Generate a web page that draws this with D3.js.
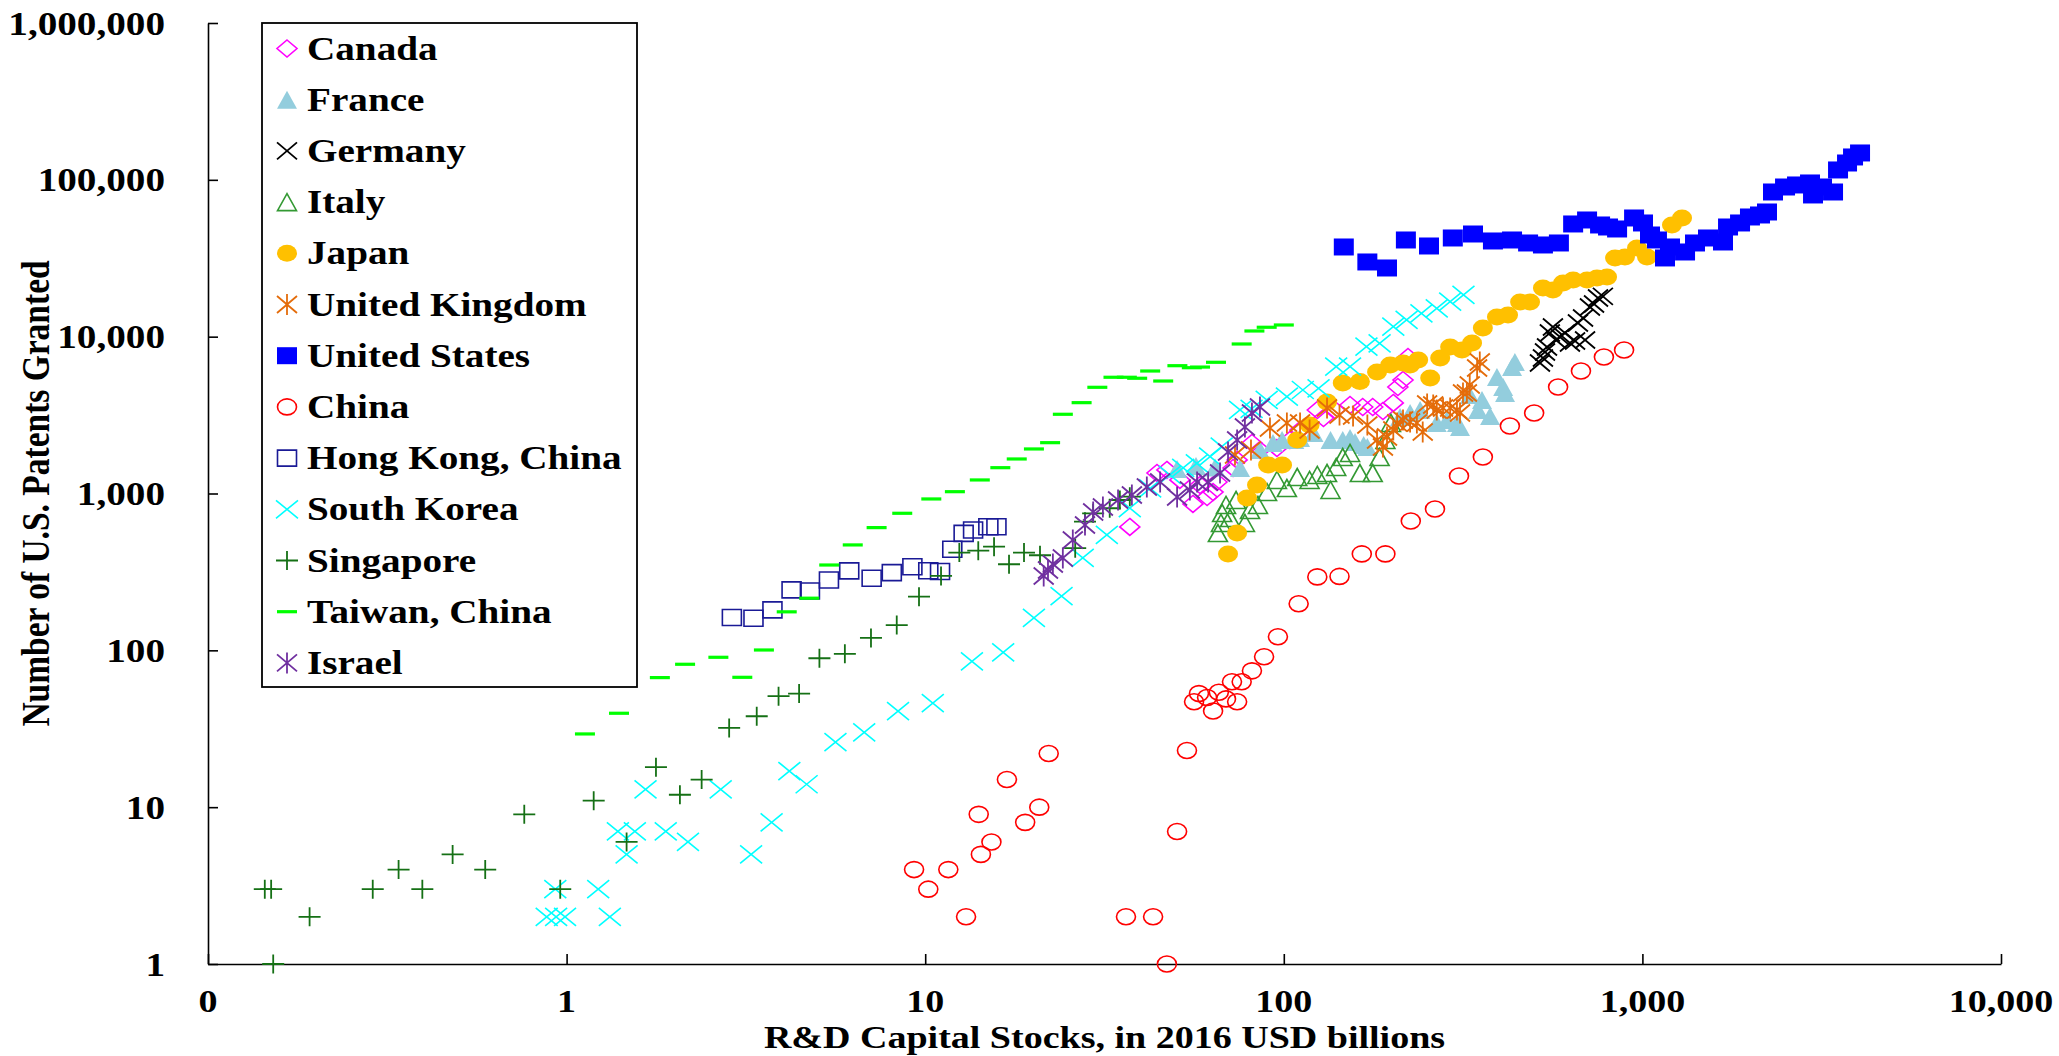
<!DOCTYPE html>
<html>
<head>
<meta charset="utf-8">
<script src="https://cdn.jsdelivr.net/npm/d3@7"></script>
<style>
  html, body { margin: 0; padding: 0; background: #fff; }
  svg { display: block; }
</style>
</head>
<body>
<svg id="chart" width="2059" height="1056"></svg>
<script>
// ---- Data: [R&D capital stock (2016 USD bn), US patents granted] ----
const canada = [[37.2,612],[44.3,1351],[47.2,1413],[51.3,1220],[55.8,858],[58.4,1133],[61.1,950],[63.5,1022],[65.1,1184],[72.2,1455],[74.1,1636],[81.5,2099],[85.8,1894],[95.7,1950],[104,2194],[111,2541],[124,3408],[129,3030],[139,3408],[153,3667],[166,3561],[177,3561],[189,3358],[202,3777],[208,4777],[215,5293],[222,7420]];
const france = [[50.4,1433],[56.9,1497],[64.3,1465],[75.5,1455],[85.8,1894],[93.3,2099],[98.9,2194],[107,2194],[111,2260],[121,2431],[135,2194],[146,2194],[153,2259],[158,2130],[167,2038],[171,1979],[211,3075],[225,3262],[240,3408],[267,2816],[285,2942],[304,2816],[310,2655],[330,4247],[348,3408],[357,3948],[376,3120],[393,5533],[409,4777],[414,4373],[433,6409],[441,6896]];
const germany = [[518,6795],[528,7311],[535,7985],[542,8600],[552,10560],[563,11530],[574,9524],[589,9954],[608,10560],[628,9113],[649,9386],[661,12220],[683,13150],[692,9524],[714,15460],[733,16160],[752,17650],[776,18060]];
const italy = [[65.5,560],[66.8,649],[67.3,751],[69.0,845],[70.8,698],[73.6,909],[77.9,649],[80.5,785],[84.7,845],[89.8,1022],[95.7,1220],[102,1084],[109,1274],[118,1220],[124,1313],[132,1351],[135,1053],[140,1476],[146,1709],[153,1813],[163,1351],[177,1351],[185,1709],[192,2194],[199,2816]];
const japan = [[69.9,412],[74.1,560],[79.0,936],[84.2,1133],[90.4,1520],[98.9,1520],[109,2194],[118,2734],[132,3832],[146,5065],[163,5180],[182,5954],[198,6598],[215,6795],[225,6598],[237,7100],[256,5452],[273,7311],[291,8600],[314,8225],[335,9113],[359,11360],[393,13350],[422,13740],[456,16640],[486,16640],[528,20440],[563,19850],[601,21990],[641,22990],[701,22990],[747,23670],[797,24030],[839,31760],[894,32220],[966,36780],[1030,32220],[1209,51540],[1290,57110]];
const unitedKingdom = [[73.1,1761],[81.0,1894],[91.5,2617],[102,2816],[111,2816],[118,2541],[132,3510],[143,3168],[156,3120],[171,2734],[182,2194],[189,1979],[194,2293],[202,2541],[207,2816],[215,2942],[225,2858],[235,2816],[244,2468],[251,3722],[261,3667],[267,3408],[278,3510],[291,3510],[304,3408],[310,3262],[316,4373],[324,4373],[330,4920],[346,6315],[352,6896]];
const unitedStates = [[147,37310],[171,29940],[194,27410],[219,41350],[254,37860],[296,42580],[337,45150],[383,40750],[433,41350],[480,39570],[528,38430],[585,39570],[641,52310],[701,55460],[762,51540],[802,50040],[850,48600],[948,57110],[1004,53080],[1050,44490],[1098,41350],[1156,31760],[1194,37310],[1315,34670],[1402,39570],[1524,42580],[1678,40150],[1733,50040],[1872,53080],[1995,57960],[2128,59690],[2226,62370],[2313,83650],[2499,90020],[2699,92730],[2934,95500],[2991,80080],[3168,90020],[3401,83650],[3512,115600],[3721,128050],[3867,139900],[4045,148350]];
const china = [[9.31,4],[10.2,3],[11.6,4],[13.0,2],[14.1,9],[14.3,5],[15.3,6],[16.9,15],[19.0,8],[20.8,10],[22.1,22],[36.3,2],[43.2,2],[47.2,1],[50.4,7],[53.7,23],[56.2,47],[58.0,53],[61.1,50],[63.5,41],[65.9,54],[69.0,49],[71.7,63],[74.1,47],[76.3,63],[81.5,74],[88.1,91],[96.3,122],[110,198],[124,294],[143,296],[165,412],[192,412],[226,668],[264,796],[308,1293],[359,1709],[427,2695],[499,3262],[582,4777],[674,6040],[781,7420],[889,8225]];
const hongKong = [[2.89,162],[3.32,160],[3.75,181],[4.24,243],[4.77,239],[5.39,281],[6.14,321],[7.09,288],[8.07,313],[9.21,341],[10.2,322],[11.0,318],[11.9,441],[12.8,557],[13.6,585],[15.0,614],[15.8,614]];
const southKorea = [[0.88,2],[0.935,2],[0.99,2],[0.93,3],[1.225,3],[1.32,2],[1.47,5],[1.39,7],[1.55,7],[1.66,13],[1.89,7],[2.18,6],[2.69,13],[3.27,5],[3.73,8],[4.18,17],[4.67,14],[5.62,26],[6.76,30],[8.40,41],[10.5,46],[13.5,85],[16.5,97],[20.1,161],[24.0,222],[27.5,388],[32.1,544],[37.2,808],[42.4,1080],[48.1,1313],[52.4,1455],[57.2,1558],[62.3,1717],[67.1,1989],[75.5,3408],[81.3,3460],[89.6,3948],[102,4145],[113,4570],[125,4687],[140,6437],[153,6437],[170,8630],[185,9070],[202,11580],[220,12780],[242,14090],[267,15170],[291,16710],[317,18440]];
const singapore = [[0.144,3],[0.15,3],[0.152,1],[0.192,2],[0.288,3],[0.34,4],[0.396,3],[0.481,5],[0.593,4],[0.762,9],[0.96,3],[1.19,11],[1.47,6],[1.775,18],[2.07,12],[2.38,15],[2.84,32],[3.39,38],[3.90,51],[4.45,53],[5.07,89],[5.97,95],[7.06,120],[8.33,145],[9.61,220],[11.07,298],[12.45,420],[14.06,432],[15.56,458],[17.13,354],[18.86,420],[20.9,404],[26.2,448],[27.9,661],[29.4,748],[32.7,805],[34.9,909],[37.2,955]];
const taiwan = [[1.125,29.3],[1.40,39.7],[1.82,67],[2.14,81.5],[2.65,90.3],[3.09,67.3],[3.55,100.5],[4.11,176],[4.75,215],[5.40,350],[6.28,470],[7.32,606],[8.63,748],[10.4,923],[12.1,1027],[14.2,1220],[16.2,1461],[18.0,1660],[20.1,1923],[22.3,2109],[24.2,3200],[27.3,3795],[30.2,4755],[33.5,5510],[36.5,5510],[39.0,5430],[42.4,6040],[46.1,5215],[50.5,6530],[55.4,6340],[58.4,6400],[64.7,6865],[76.3,8980],[82.8,10870],[89.6,11480],[100,11870]];
const israel = [[21.4,298],[22.0,325],[22.7,355],[24.2,388],[25.8,505],[27.9,630],[29.4,762],[31.3,820],[34.5,909],[37.7,978],[41.5,1100],[45.2,1184],[50.4,950],[54.7,1053],[57.3,1184],[61.5,1184],[66.4,1351],[69.9,1840],[74.1,2194],[77.9,2655],[81.5,3262],[85.8,3561]];

const xTicks = [0.1, 1, 10, 100, 1000, 10000];
const xTickLabels = ["0", "1", "10", "100", "1,000", "10,000"];
const yTicks = [1, 10, 100, 1000, 10000, 100000, 1000000];
const yTickLabels = ["1", "10", "100", "1,000", "10,000", "100,000", "1,000,000"];
const xTitle = "R&D Capital Stocks, in 2016 USD billions";
const yTitle = "Number of U.S. Patents Granted";

// ---- Series list (drawing order) and marker styles ----
const series = [
  { name: "Canada",           data: canada,        mark: "diamond",  color: "#ff00ff" },
  { name: "France",           data: france,        mark: "triFill",  color: "#93cddd" },
  { name: "Germany",          data: germany,       mark: "cross",    color: "#000000" },
  { name: "Italy",            data: italy,         mark: "triOpen",  color: "#339933" },
  { name: "Japan",            data: japan,         mark: "dot",      color: "#ffc000" },
  { name: "United Kingdom",   data: unitedKingdom, mark: "star",     color: "#e46c0a" },
  { name: "United States",    data: unitedStates,  mark: "square",   color: "#0000ff" },
  { name: "China",            data: china,         mark: "ring",     color: "#ff0000" },
  { name: "Hong Kong, China", data: hongKong,      mark: "box",      color: "#1a1a96" },
  { name: "South Korea",      data: southKorea,    mark: "crossBig", color: "#00ffff" },
  { name: "Singapore",        data: singapore,     mark: "plus",     color: "#157015" },
  { name: "Taiwan, China",    data: taiwan,        mark: "dash",     color: "#00ff00" },
  { name: "Israel",           data: israel,        mark: "star",     color: "#7030a0" }
];

// ---- Layout ----
const svg = d3.select("#chart");
const x = d3.scaleLog().domain([0.1, 10000]).range([208, 2001]);
const y = d3.scaleLog().domain([1, 1000000]).range([964, 23]);
const SX = 1.17;            // horizontal stretch of lettering
const FONT = "'Liberation Serif', 'Times New Roman', serif";
const FS = 33.5;

function label(parent, px, py, str, anchor, rot, size) {
  const g = parent.append("g")
    .attr("transform", `translate(${px},${py}) scale(${SX},1)` + (rot ? ` rotate(${rot})` : ""));
  g.append("text")
    .attr("text-anchor", anchor)
    .attr("font-family", FONT)
    .attr("font-weight", "bold")
    .attr("font-size", size || FS)
    .attr("fill", "#000")
    .text(str);
}

// marker geometry: returns {d, fill, stroke, sw}
function marker(kind, color) {
  const ell = (rx, ry) => `M${-rx},0A${rx},${ry} 0 1,0 ${rx},0A${rx},${ry} 0 1,0 ${-rx},0Z`;
  const rect = (hw, hh) => `M${-hw},${-hh}H${hw}V${hh}H${-hw}Z`;
  switch (kind) {
    case "diamond":  return { d: "M0,-8.5L10,0L0,8.5L-10,0Z", fill: "none", stroke: color, sw: 1.6 };
    case "triFill":  return { d: "M0,-9L10,9L-10,9Z", fill: color, stroke: "none", sw: 0 };
    case "triOpen":  return { d: "M0,-8.5L9.5,8.5L-9.5,8.5Z", fill: "none", stroke: color, sw: 1.6 };
    case "cross":    return { d: "M-10,-8.5L10,8.5M-10,8.5L10,-8.5", fill: "none", stroke: color, sw: 1.8 };
    case "crossBig": return { d: "M-11,-9L11,9M-11,9L11,-9", fill: "none", stroke: color, sw: 1.6 };
    case "star":     return { d: "M-10,-8.5L10,8.5M-10,8.5L10,-8.5M0,-10.5L0,10.5", fill: "none", stroke: color, sw: 1.8 };
    case "plus":     return { d: "M-11,0L11,0M0,-9.5L0,9.5", fill: "none", stroke: color, sw: 1.8 };
    case "dash":     return { d: "M-10,0L10,0", fill: "none", stroke: color, sw: 3.2 };
    case "square":   return { d: rect(10, 8.5), fill: color, stroke: "none", sw: 0 };
    case "box":      return { d: rect(9.5, 8), fill: "none", stroke: color, sw: 1.6 };
    case "dot":      return { d: ell(10, 8.5), fill: color, stroke: "none", sw: 0 };
    case "ring":     return { d: ell(9.5, 8), fill: "none", stroke: color, sw: 1.6 };
  }
}

// ---- Axes ----
const xAxis = d3.axisBottom(x).tickValues(xTicks).tickSizeInner(-10).tickSizeOuter(0).tickFormat("");
const yAxis = d3.axisLeft(y).tickValues(yTicks).tickSizeInner(-10).tickSizeOuter(0).tickFormat("");
const gx = svg.append("g").attr("transform", "translate(0,964)").call(xAxis);
const gy = svg.append("g").attr("transform", "translate(208,0)").call(yAxis);
[gx, gy].forEach(g => {
  g.selectAll("path, line").attr("stroke", "#000").attr("stroke-width", 1.6);
});

xTicks.forEach((t, i) => label(svg, x(t), 1012, xTickLabels[i], "middle", 0, 32.5));
yTicks.forEach((t, i) => label(svg, 165, y(t) + 11.5, yTickLabels[i], "end"));

label(svg, (x.range()[0] + x.range()[1]) / 2, 1048, xTitle, "middle", 0, 32.5);
label(svg, 49, (y.range()[0] + y.range()[1]) / 2, yTitle, "middle", -90);

// ---- Points ----
const plot = svg.append("g");
series.forEach(s => {
  const m = marker(s.mark, s.color);
  plot.append("g")
    .selectAll("path")
    .data(s.data)
    .join("path")
    .attr("transform", d => `translate(${x(d[0])},${y(d[1])})`)
    .attr("d", m.d)
    .attr("fill", m.fill)
    .attr("stroke", m.stroke)
    .attr("stroke-width", m.sw);
});

// ---- Legend ----
const legend = svg.append("g");
legend.append("rect")
  .attr("x", 262).attr("y", 23).attr("width", 375).attr("height", 664)
  .attr("fill", "#fff").attr("stroke", "#000").attr("stroke-width", 1.8);
series.forEach((s, i) => {
  const cy = 48.5 + i * 51.2;
  const m = marker(s.mark, s.color);
  legend.append("path")
    .attr("transform", `translate(287,${cy})`)
    .attr("d", m.d).attr("fill", m.fill).attr("stroke", m.stroke).attr("stroke-width", m.sw);
  label(legend, 307, cy + 11, s.name, "start");
});
</script>
</body>
</html>
